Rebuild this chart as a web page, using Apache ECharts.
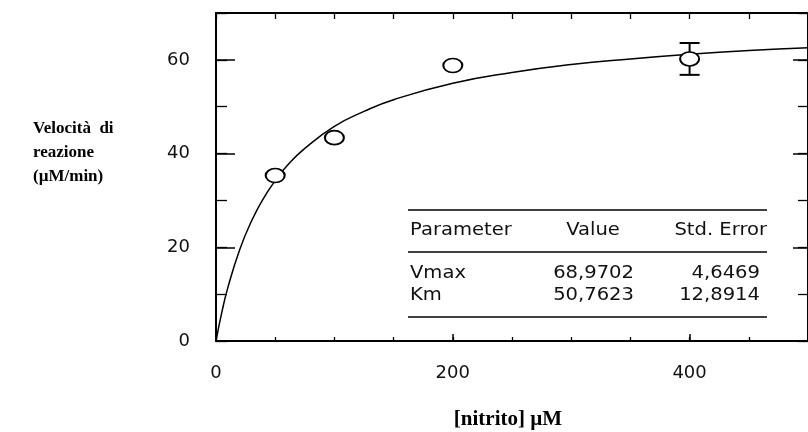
<!DOCTYPE html>
<html>
<head>
<meta charset="utf-8">
<script src="https://cdn.jsdelivr.net/npm/echarts@6/dist/echarts.min.js"></script>
<style>
  html, body { margin: 0; background: #fff; }
  #chart { width: 808px; height: 432px; }
</style>
</head>
<body>
<div id="chart"></div>
<script>
  // measured points
  const substrate = [50, 100, 200, 400]
  const velocity = [35.3, 43.4, 58.8, 60.2]

  // error bar (only the 400 µM point has one)
  const errX = [400]
  const errLow = [56.8]
  const errHigh = [63.6]

  // fitted curve
  const fitX = [0, 5, 10, 20, 30, 40, 50, 60, 75, 100, 125, 150, 200, 250, 300, 350, 400, 450, 500]
  const fitY = [0, 6.2, 11.4, 19.5, 25.6, 30.4, 34.2, 37.4, 41.1, 45.8, 49.0, 51.5, 55.0, 57.3, 59.0, 60.2, 61.2, 62.0, 62.6]

  // axis labels
  const xLabels = [0, 200, 400]
  const yLabels = [0, 20, 40, 60]

  // inset table
  const tableHeader = ['Parameter', 'Value', 'Std. Error']
  const paramNames = ['Vmax', 'Km']
  const paramValues = ['68,9702', '50,7623']
  const paramErrors = ['4,6469', '12,8914']

  const ink = '#111'
  const tickFont = 'DejaVu Sans'
  const tableFont = '17px "DejaVu Sans"'

  const chart = echarts.init(document.getElementById('chart'))

  const hideAll = { axisLine: { show: false, onZero: false }, axisLabel: { show: false }, splitLine: { show: false } }
  const frameLine = { onZero: false, lineStyle: { color: '#000', width: 2 } }

  const xBase = { type: 'value', min: 0, max: 500, splitLine: { show: false } }
  const yBase = { type: 'value', min: 0, max: 70, splitLine: { show: false } }

  const tableTexts = []
  const addText = (text, x, y, align) => {
    tableTexts.push({
      type: 'text', x: x, y: y, scaleX: 1.15, silent: true,
      style: { text: text, font: tableFont, fill: ink, textAlign: align, textVerticalAlign: 'middle' }
    })
  }
  addText(tableHeader[0], 410, 231, 'left')
  addText(tableHeader[1], 593, 231, 'center')
  addText(tableHeader[2], 767, 231, 'right')
  paramNames.forEach((name, i) => {
    const y = 274 + i * 22
    addText(name, 410, y, 'left')
    addText(paramValues[i], 634, y, 'right')
    addText(paramErrors[i], 760, y, 'right')
  })

  const tableLine = (y) => ({
    type: 'line', silent: true,
    shape: { x1: 408, y1: y, x2: 767, y2: y },
    style: { stroke: '#000', lineWidth: 1.6 }
  })

  const option = {
    animation: false,
    backgroundColor: '#fff',
    grid: { left: 216, right: -3, top: 13, bottom: 91 },
    xAxis: [
      Object.assign({}, xBase, {
        position: 'bottom',
        interval: 200,
        axisLine: frameLine,
        axisTick: { inside: true, length: 7, customValues: xLabels, lineStyle: { color: '#000', width: 1.5 } },
        axisLabel: { margin: 23, customValues: xLabels, color: ink, fontSize: 18, fontFamily: tickFont }
      }),
      Object.assign({}, xBase, hideAll, {
        position: 'bottom',
        interval: 50,
        axisTick: { inside: true, length: 4, lineStyle: { color: '#000', width: 1.3 } }
      }),
      Object.assign({}, xBase, {
        position: 'top',
        interval: 50,
        axisLine: frameLine,
        axisLabel: { show: false },
        axisTick: { inside: true, length: 6, lineStyle: { color: '#000', width: 1.3 } }
      })
    ],
    yAxis: [
      Object.assign({}, yBase, {
        position: 'left',
        interval: 20,
        axisLine: frameLine,
        axisTick: { inside: true, length: 19, customValues: yLabels, lineStyle: { color: '#000', width: 1.5 } },
        axisLabel: { margin: 26, customValues: yLabels, color: ink, fontSize: 18, fontFamily: tickFont }
      }),
      Object.assign({}, yBase, hideAll, {
        position: 'left',
        interval: 10,
        axisTick: { inside: true, length: 11, lineStyle: { color: '#000', width: 1.3 } }
      }),
      Object.assign({}, yBase, {
        position: 'right',
        interval: 20,
        axisLine: frameLine,
        axisLabel: { show: false },
        axisTick: { inside: true, length: 15, lineStyle: { color: '#000', width: 1.5 } }
      }),
      Object.assign({}, yBase, hideAll, {
        position: 'right',
        interval: 10,
        axisTick: { inside: true, length: 10, lineStyle: { color: '#000', width: 1.3 } }
      })
    ],
    graphic: [
      {
        type: 'text', x: 33, y: 153, silent: true,
        style: {
          text: 'Velocità  di\nreazione\n(µM/min)',
          font: 'bold 17px "Liberation Serif"', lineHeight: 24,
          fill: '#000', textAlign: 'left', textVerticalAlign: 'middle'
        }
      },
      {
        type: 'text', x: 508, y: 420, silent: true,
        style: {
          text: '[nitrito] µM', font: 'bold 21px "Liberation Serif"',
          fill: '#000', textAlign: 'center', textVerticalAlign: 'middle'
        }
      },
      tableLine(210),
      tableLine(252),
      tableLine(317)
    ].concat(tableTexts),
    series: [
      {
        type: 'line',
        data: fitX.map((x, i) => [x, fitY[i]]),
        smooth: true,
        showSymbol: false,
        lineStyle: { color: '#000', width: 1.5 },
        z: 2
      },
      {
        type: 'custom',
        data: errX.map((x, i) => [x, errLow[i], errHigh[i]]),
        renderItem: (params, api) => {
          const lo = api.coord([api.value(0), api.value(1)])
          const hi = api.coord([api.value(0), api.value(2)])
          const half = 10
          const style = { stroke: '#000', lineWidth: 2 }
          return {
            type: 'group',
            children: [
              { type: 'line', shape: { x1: lo[0], y1: lo[1], x2: hi[0], y2: hi[1] }, style: style },
              { type: 'line', shape: { x1: hi[0] - half, y1: hi[1], x2: hi[0] + half, y2: hi[1] }, style: style },
              { type: 'line', shape: { x1: lo[0] - half, y1: lo[1], x2: lo[0] + half, y2: lo[1] }, style: style }
            ]
          }
        },
        z: 3
      },
      {
        type: 'scatter',
        data: substrate.map((x, i) => [x, velocity[i]]),
        symbol: 'circle',
        symbolSize: [19, 14],
        itemStyle: { color: '#fff', borderColor: '#000', borderWidth: 1.8, opacity: 1 },
        z: 4
      }
    ]
  }

  chart.setOption(option)
</script>
</body>
</html>
